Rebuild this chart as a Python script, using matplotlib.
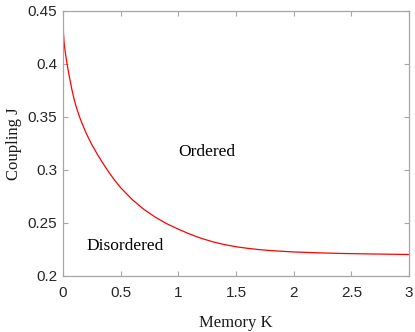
import matplotlib
matplotlib.use("Agg")
import matplotlib.pyplot as plt

memory_k = [0.0, 0.005, 0.01, 0.015, 0.02, 0.03, 0.037, 0.05, 0.06, 0.075, 0.09, 0.1,
            0.119, 0.15, 0.2, 0.25, 0.3, 0.35, 0.4, 0.45, 0.5, 0.6, 0.7, 0.8, 0.9,
            1.0, 1.1, 1.2, 1.3, 1.4, 1.5, 1.6, 1.7, 1.8, 1.9, 2.0, 2.2, 2.4, 2.6,
            2.8, 3.0]
coupling_j = [0.4400, 0.4275, 0.4200, 0.4148, 0.4108, 0.4038, 0.3990, 0.3910, 0.3855,
              0.3770, 0.3698, 0.3652, 0.3580, 0.3481, 0.3349, 0.3239, 0.3144, 0.3057,
              0.2975, 0.2900, 0.2833, 0.2721, 0.2630, 0.2555, 0.2493, 0.2442, 0.2395,
              0.2355, 0.2322, 0.2296, 0.2276, 0.2261, 0.2249, 0.2240, 0.2233, 0.2227,
              0.2219, 0.2213, 0.2209, 0.2206, 0.2203]

xticks = [0, 0.5, 1, 1.5, 2, 2.5, 3]
xticklabels = ["0", "0.5", "1", "1.5", "2", "2.5", "3"]
yticks = [0.2, 0.25, 0.3, 0.35, 0.4, 0.45]
yticklabels = ["0.2", "0.25", "0.3", "0.35", "0.4", "0.45"]

fig = plt.figure(figsize=(4.15, 3.32), dpi=100)
ax = fig.add_axes([0.1518, 0.1687, 0.8337, 0.7982])

ax.plot(memory_k, coupling_j, color="#ff0000", linewidth=0.9)

ax.set_xlim(0, 3)
ax.set_ylim(0.2, 0.45)
ax.set_xticks(xticks)
ax.set_xticklabels(xticklabels)
ax.set_yticks(yticks)
ax.set_yticklabels(yticklabels)

spine_col = "#a6a6a6"
for s in ax.spines.values():
    s.set_color(spine_col)
    s.set_linewidth(0.9)
ax.tick_params(direction="in", top=True, right=True, length=3.5, width=0.8,
               color=spine_col, labelcolor="#262626", labelsize=11)
ax.tick_params(axis="x", pad=7)
ax.tick_params(axis="y", pad=4)
for lab in ax.get_xticklabels() + ax.get_yticklabels():
    lab.set_family("Liberation Sans")

serif = "Liberation Serif"
ax.set_xlabel("Memory K", family=serif, fontsize=12, color="#1a1a1a", labelpad=11)
ax.set_ylabel("Coupling J", family=serif, fontsize=12, color="#1a1a1a", labelpad=4)

ax.text(1.25, 0.317, "Ordered", family=serif, fontsize=12.5, ha="center", va="center")
ax.text(0.54, 0.2284, "Disordered", family=serif, fontsize=12.5, ha="center", va="center")

fig.savefig("out.png", dpi=100)
